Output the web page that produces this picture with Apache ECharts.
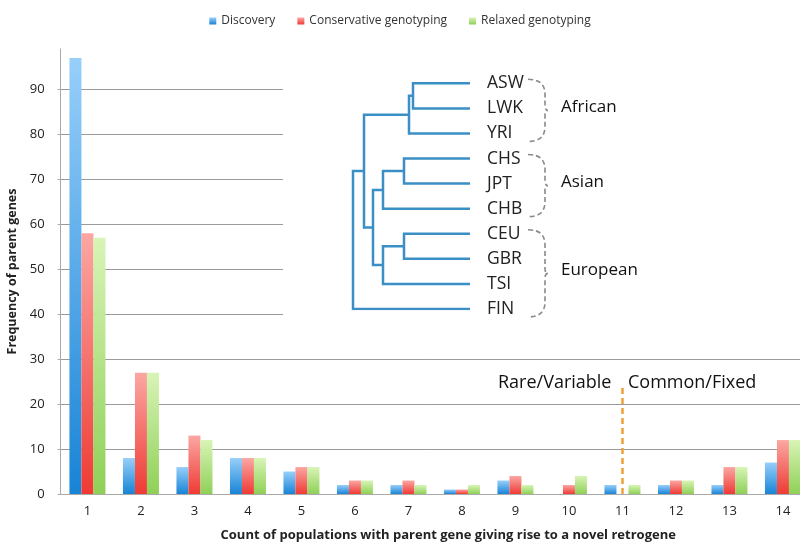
<!DOCTYPE html>
<html>
<head>
<meta charset="utf-8">
<script src="https://cdn.jsdelivr.net/npm/echarts@6/dist/echarts.min.js"></script>
<style>html,body{margin:0;padding:0;background:#fff;}#chart{width:800px;height:544px;}</style>
</head>
<body>
<div id="chart"></div>
<script>
// ---- data ----
const categories = ['1','2','3','4','5','6','7','8','9','10','11','12','13','14'];
const discovery    = [97, 8, 6, 8, 5, 2, 2, 1, 3, 0, 2, 2, 2, 7];
const conservative = [58, 27, 13, 8, 6, 3, 3, 1, 4, 2, 0, 3, 6, 12];
const relaxed      = [57, 27, 12, 8, 6, 3, 2, 2, 2, 4, 2, 3, 6, 12];
const seriesNames = ['Discovery', 'Conservative genotyping', 'Relaxed genotyping'];
const yAxisMin = 0, yAxisMax = 99, yAxisStep = 10;
const splitCategory = '11';
const splitTop = 24;
const splitLabels = ['Rare/Variable', 'Common/Fixed'];

// dendrogram: leaves, merges [childA, childB, height], groups [name, firstLeaf, lastLeaf]
const dendroLeaves = ['ASW','LWK','YRI','CHS','JPT','CHB','CEU','GBR','TSI','FIN'];
const dendroMerges = [[0,1,57],[10,2,61],[3,4,66],[12,5,87],[6,7,66],[14,8,87],[13,15,97],[11,16,106],[17,9,117]];
const dendroGroups = [['African',0,2],['Asian',3,5],['European',6,9]];

// ---- build dendrogram segments ----
const nodeY = dendroLeaves.map((_, i) => i);
const nodeH = dendroLeaves.map(() => 0);
const dendroLines = [];
dendroMerges.forEach(([a, b, h]) => {
  dendroLines.push({coords: [[nodeH[a], nodeY[a]], [h, nodeY[a]], [h, nodeY[b]], [nodeH[b], nodeY[b]]]});
  nodeY.push((nodeY[a] + nodeY[b]) / 2);
  nodeH.push(h);
});
const rootH = dendroMerges[dendroMerges.length - 1][2];

const FONT = 'Open Sans';
function grad(top, bottom) {
  return new echarts.graphic.LinearGradient(0, 0, 0, 1, [{offset: 0, color: top}, {offset: 1, color: bottom}]);
}

const chart = echarts.init(document.getElementById('chart'), null, {renderer: 'canvas'});
chart.setOption({
  backgroundColor: '#fff',
  textStyle: {fontFamily: FONT},
  animation: false,
  legend: {
    top: 10, left: 'center',
    icon: 'rect', itemWidth: 7, itemHeight: 7, itemGap: 22,
    textStyle: {fontSize: 12, color: '#333', fontFamily: FONT},
    data: seriesNames
  },
  grid: [
    {left: 60.7, width: 749, top: 49, height: 445, outerBoundsMode: 'none', containLabel: false},
    {left: 353, right: 330, top: 83.3, bottom: 235, outerBoundsMode: 'none', containLabel: false}
  ],
  xAxis: [
    {
      type: 'category', data: categories, gridIndex: 0,
      name: 'Count of populations with parent gene giving rise to a novel retrogene',
      nameLocation: 'middle', nameGap: 35,
      nameTextStyle: {fontWeight: 'bold', fontSize: 13, color: '#222', padding: [0, 0, 0, 26]},
      axisLine: {lineStyle: {color: '#aaa'}},
      axisTick: {length: 3, lineStyle: {color: '#aaa'}},
      axisLabel: {fontSize: 13, color: '#222', margin: 11}
    },
    {type: 'value', gridIndex: 1, min: 0, max: rootH, inverse: true, show: false}
  ],
  yAxis: [
    {
      type: 'value', gridIndex: 0, min: yAxisMin, max: yAxisMax, interval: yAxisStep,
      name: 'Frequency of parent genes', nameLocation: 'middle', nameGap: 35,
      nameTextStyle: {fontWeight: 'bold', fontSize: 12.5, color: '#222'},
      axisLine: {show: true, lineStyle: {color: '#aaa'}},
      axisTick: {show: true, length: 3, lineStyle: {color: '#aaa'}},
      axisLabel: {fontSize: 13, color: '#222', margin: 16, showMaxLabel: false,
        formatter: v => (v % yAxisStep === 0 ? String(v) : '')},
      splitLine: {show: true, showMaxLine: false, lineStyle: {color: '#9a9a9a', width: 1}}
    },
    {
      type: 'value', gridIndex: 1, min: 0, max: dendroLeaves.length - 1, interval: 1,
      inverse: true, position: 'right', z: 5,
      axisLine: {show: false}, axisTick: {show: false}, splitLine: {show: false},
      axisLabel: {fontSize: 17.5, color: '#222', margin: 17, fontFamily: FONT,
        formatter: v => dendroLeaves[v] || ''}
    }
  ],
  graphic: [
    {type: 'rect', z: 1, silent: true, shape: {x: 283, y: 50, width: 517, height: 272}, style: {fill: '#fff'}},
    {type: 'text', z: 3, x: 498, y: 383, style: {text: splitLabels[0], fontSize: 18, fill: '#111', fontFamily: FONT, verticalAlign: 'middle'}},
    {type: 'text', z: 3, x: 628, y: 383, style: {text: splitLabels[1], fontSize: 18, fill: '#111', fontFamily: FONT, verticalAlign: 'middle'}}
  ],
  series: [
    {
      name: seriesNames[0], type: 'bar', data: discovery, barWidth: 12, barGap: '0%',
      itemStyle: {color: grad('#97cffa', '#1884d6')}
    },
    {
      name: seriesNames[1], type: 'bar', data: conservative, barWidth: 12, barGap: '0%',
      itemStyle: {color: grad('#fba7a3', '#ef3a34')},
      markLine: {
        silent: true, symbol: 'none', label: {show: false},
        lineStyle: {color: '#f0a038', type: [6, 4], width: 2.5},
        data: [[{coord: [splitCategory, 0]}, {coord: [splitCategory, splitTop]}]]
      }
    },
    {
      name: seriesNames[2], type: 'bar', data: relaxed, barWidth: 12, barGap: '0%',
      itemStyle: {color: grad('#d8f4b6', '#8fd057')}
    },
    {
      type: 'lines', coordinateSystem: 'cartesian2d', xAxisIndex: 1, yAxisIndex: 1,
      polyline: true, z: 5, silent: true,
      lineStyle: {color: '#3b8fc5', width: 2.5, opacity: 1},
      data: dendroLines
    },
    {
      type: 'custom', coordinateSystem: 'cartesian2d', xAxisIndex: 1, yAxisIndex: 1,
      z: 5, silent: true, clip: false,
      data: dendroGroups.map(g => [0, g[1], g[2]]),
      encode: {x: 0, y: 1},
      renderItem: function (params, api) {
        const p0 = api.coord([0, api.value(1)]);
        const p1 = api.coord([0, api.value(2)]);
        const x0 = p0[0] + 58, xm = x0 + 17;
        const y0 = p0[1] - 4, y1 = p1[1] + 8, mid = (y0 + y1) / 2;
        const d = 'M' + x0 + ' ' + y0 + ' Q' + xm + ' ' + y0 + ' ' + xm + ' ' + (y0 + 15) +
          ' L' + xm + ' ' + (mid - 5) + ' Q' + xm + ' ' + mid + ' ' + (xm + 3) + ' ' + mid +
          ' Q' + xm + ' ' + mid + ' ' + xm + ' ' + (mid + 5) +
          ' L' + xm + ' ' + (y1 - 15) + ' Q' + xm + ' ' + y1 + ' ' + x0 + ' ' + y1;
        return {
          type: 'group',
          children: [
            {type: 'path', shape: {pathData: d}, style: {stroke: '#8a8a8a', fill: 'none', lineWidth: 1.6, lineDash: [5, 3]}},
            {type: 'text', style: {text: dendroGroups[params.dataIndex][0], x: xm + 16, y: mid - 3,
              fontSize: 17, fill: '#111', fontFamily: FONT, verticalAlign: 'middle'}}
          ]
        };
      }
    }
  ]
});
</script>
</body>
</html>
